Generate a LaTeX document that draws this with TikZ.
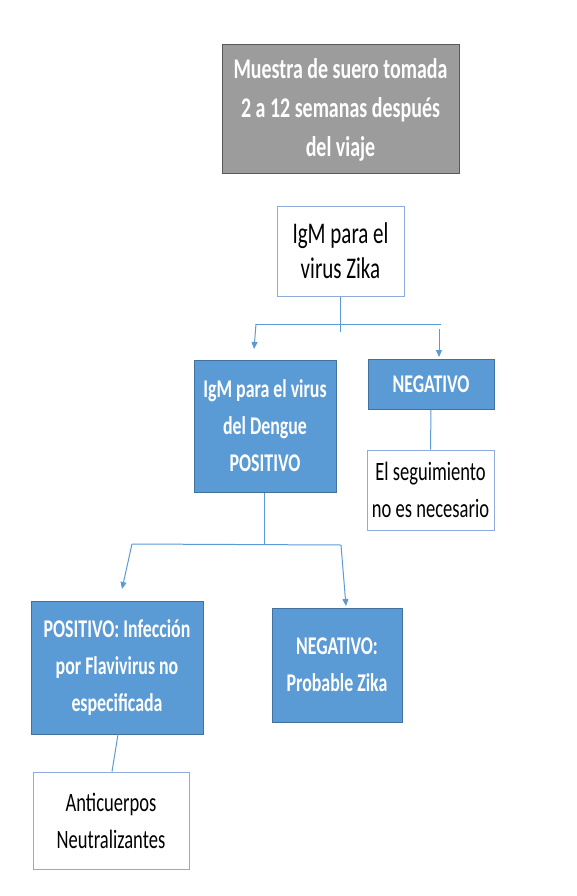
\documentclass[tikz,border=0pt]{standalone}
\usepackage{fontspec}
\setmainfont{Carlito}[FakeStretch=0.70]
\usetikzlibrary{arrows.meta}
\definecolor{obl}{HTML}{5B9BD5}
\definecolor{oblb}{HTML}{41719C}
\definecolor{wbd}{HTML}{8FAADC}
\definecolor{gfill}{HTML}{9C9C9C}
\definecolor{gbd}{HTML}{595959}
\begin{document}
\begin{tikzpicture}[x=1pt,y=-1pt,
  box/.style={rectangle,inner sep=0pt,align=center,line width=1pt},
  graybox/.style={box,fill=gfill,draw=gbd,text=white,font=\fontsize{28.5}{39}\selectfont\bfseries},
  bluebox/.style={box,fill=obl,draw=oblb,text=white,font=\fontsize{25.5}{37}\selectfont\bfseries},
  whitebox/.style={box,fill=white,draw=wbd,text=black,font=\fontsize{26.5}{37}\selectfont},
  conn/.style={draw=obl,line width=1pt},
  arr/.style={conn,-{Triangle[width=6pt,length=7pt]}}]
\useasboundingbox (0,0) rectangle (576,896);
\node[graybox,minimum width=237pt,minimum height=129pt] (src) at (340.5,109.5)
  {Muestra de suero tomada\\2 a 12 semanas después\\del viaje};
\node[whitebox,minimum width=127pt,minimum height=90pt,font=\fontsize{30}{35}\selectfont] (zika) at (340.5,251)
  {IgM para el\\virus Zika};
\node[bluebox,minimum width=142pt,minimum height=132pt] (deng) at (265,426)
  {IgM para el virus\\del Dengue\\POSITIVO};
\node[bluebox,minimum width=126pt,minimum height=50pt] (neg) at (431,384) {NEGATIVO};
\node[whitebox,minimum width=127pt,minimum height=80pt] (seg) at (430.5,490)
  {El seguimiento\\no es necesario};
\node[bluebox,minimum width=172pt,minimum height=133pt] (flav) at (117,667.5)
  {POSITIVO: Infección\\por Flavivirus no\\especificada};
\node[bluebox,minimum width=130pt,minimum height=114pt] (prob) at (337,665)
  {NEGATIVO:\\Probable Zika};
\node[whitebox,minimum width=156pt,minimum height=97pt] (anti) at (111,820.5)
  {Anticuerpos\\Neutralizantes};
% connectors
\coordinate (z1) at (340.5,332);
\coordinate (hl) at (256,324);
\coordinate (hr) at (441,324);
\coordinate (al) at (254,349);
\coordinate (ar0) at (439,329);
\coordinate (ar) at (439,357);
\draw[conn] (zika.south) -- (z1);
\draw[conn] (hl) -- (hr);
\draw[arr] (hl) -- (al);
\draw[arr] (ar0) -- (ar);
\coordinate (d1) at (264,544);
\coordinate (dl) at (132,544);
\coordinate (dr) at (341,545);
\coordinate (bl) at (122,589);
\coordinate (br) at (346,606);
\draw[conn] (deng.south -| d1) -- (d1);
\draw[conn] (dl) -- (dr);
\draw[arr] (dl) -- (bl);
\draw[arr] (dr) -- (br);
\draw[conn] (neg.south) -- (seg.north);
\draw[conn] ([xshift=1pt]flav.south) -- ([xshift=1pt]anti.north);
\end{tikzpicture}
\end{document}
